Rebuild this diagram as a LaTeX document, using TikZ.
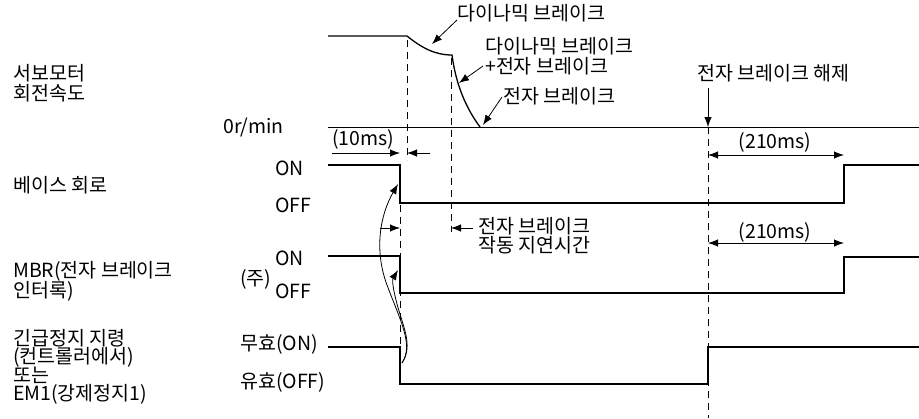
\documentclass[tikz,border=0pt]{standalone}
\usepackage{fontspec}
\setmainfont{Noto Sans CJK KR}
\usetikzlibrary{arrows.meta}
\begin{document}
\begin{tikzpicture}[x=1pt,y=-1pt,
  sig/.style={line width=1.3pt},
  dsh/.style={dash pattern=on 7pt off 5pt, line width=0.8pt},
  lbl/.style={anchor=west, inner sep=0pt, text height=15pt, text depth=3pt, font=\fontsize{19.5}{21}\selectfont},
  ctr/.style={inner sep=0pt, text height=15pt, text depth=3pt, font=\fontsize{19.5}{21}\selectfont},
  tipa/.style={-{Latex[length=10pt,width=7.5pt]}, line width=0.8pt},
  dimarrow/.style={{Latex[length=10pt,width=7.5pt]}-{Latex[length=10pt,width=7.5pt]}, line width=0.8pt}]
\useasboundingbox (0,0) rectangle (919,418);

% waveforms
\draw[sig] (328,36) -- (407,36) .. controls (422,48) and (435,55) .. (452,55)
  .. controls (456,85) and (466,108) .. (480,127);
\draw[line width=1pt] (328,127) -- (919,127);
\draw[sig] (328,165) -- (400,165) -- (400,203) -- (844,203) -- (844,165) -- (919,165);
\draw[sig] (328,256) -- (400,256) -- (400,293) -- (844,293) -- (844,257) -- (919,257);
\draw[sig] (328,347) -- (400,347) -- (400,384) -- (708,384) -- (708,347) -- (919,347);

% dashed guides
\draw[dsh] (407,40) -- (407,160);
\draw[dsh] (451,58) -- (451,232);
\draw[dsh] (400,205) -- (400,345);
\draw[dsh] (708,127) -- (708,418);

% left labels
\node[lbl] (l1) at (13,74) {서보모터};
\node[lbl] (l2) at (13,94) {회전속도};
\node[lbl] (l3) at (13,186) {베이스 회로};
\node[lbl] (l4) at (13,271) {MBR(전자 브레이크};
\node[lbl] (l5) at (13,291) {인터록)};
\node[lbl] (l6) at (13,339) {긴급정지 지령};
\node[lbl] (l7) at (13,357.5) {(컨트롤러에서)};
\node[lbl] (l8) at (13,376) {또는};
\node[lbl] (l9) at (13,394.5) {EM1(강제정지1)};

% level labels
\node[lbl] (z0) at (223,127) {0r/min};
\node[lbl] (on1) at (275,169) {ON};
\node[lbl] (off1) at (275,206) {OFF};
\node[lbl] (on2) at (275,259) {ON};
\node[lbl] (off2) at (275,292) {OFF};
\node[lbl] (note) at (240,279) {(주)};
\node[lbl] (on3) at (240,344) {무효(ON)};
\node[lbl] (off3) at (240,382) {유효(OFF)};

% annotation texts
\node[lbl] (t1) at (457,14) {다이나믹 브레이크};
\node[lbl] (t2) at (485,47) {다이나믹 브레이크};
\node[lbl] (t3) at (485,67) {+전자 브레이크};
\node[lbl] (t4) at (503,97) {전자 브레이크};
\node[lbl] (t5) at (697,74) {전자 브레이크 해제};
\node[lbl] (t6) at (332,139) {(10ms)};
\node[ctr] (t7) at (775,142) {(210ms)};
\node[ctr] (t8) at (775,232) {(210ms)};
\node[lbl] (t9) at (478,227) {전자 브레이크};
\node[lbl] (t10) at (478,246) {작동 지연시간};

% coordinates for connectors
\coordinate (a1s) at (457,20);  \coordinate (a1e) at (432,44);
\coordinate (a2s) at (483,66);  \coordinate (a2e) at (459,83);
\coordinate (a3s) at (502,97);  \coordinate (a3e) at (483,125);
\coordinate (a4s) at (708,88);  \coordinate (a4e) at (708,127);
\coordinate (m1s) at (332,153); \coordinate (m1e) at (400,153);
\coordinate (m2s) at (430,153); \coordinate (m2e) at (407,153);
\coordinate (d1s) at (380,228); \coordinate (d1e) at (400,228);
\coordinate (d2s) at (473,228); \coordinate (d2e) at (451,228);
\coordinate (r1s) at (708,155); \coordinate (r1e) at (844,155);
\coordinate (r2s) at (708,243); \coordinate (r2e) at (844,243);
\coordinate (cs) at (402,363);
\coordinate (ce1) at (398,184);
\coordinate (ce2) at (398,270);

\draw[tipa] (a1s) -- (a1e);
\draw[tipa] (a2s) -- (a2e);
\draw[tipa] (a3s) -- (a3e);
\draw[tipa] (a4s) -- (a4e);
\draw[tipa] (m1s) -- (m1e);
\draw[tipa] (m2s) -- (m2e);
\draw[tipa] (d1s) -- (d1e);
\draw[tipa] (d2s) -- (d2e);
\draw[dimarrow] (r1s) -- (r1e);
\draw[dimarrow] (r2s) -- (r2e);

\draw[tipa] (cs) .. controls (414,345) and (400,320) .. (387,285)
  .. controls (374,250) and (380,215) .. (ce1);
\draw[tipa] (cs) .. controls (414,345) and (402,325) .. (396,300)
  .. controls (393,288) and (392,280) .. (ce2);
\end{tikzpicture}
\end{document}
